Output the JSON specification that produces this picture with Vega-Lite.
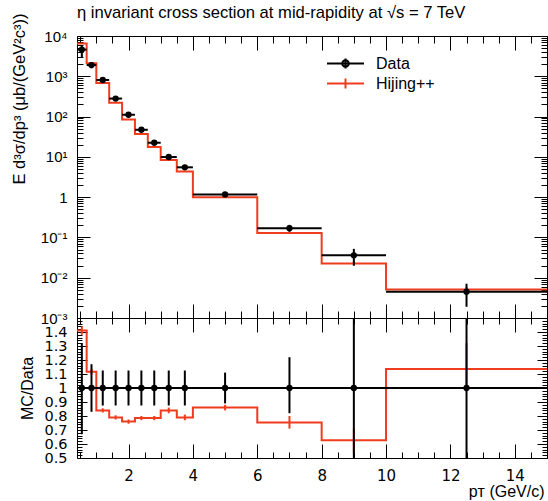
{
  "$schema": "https://vega.github.io/schema/vega-lite/v6.json",
  "autosize": {"type": "none"},
  "padding": {"left": 77, "top": 36, "right": 1, "bottom": 43},
  "width": 470,
  "height": 422,
  "background": "white",
  "title": {"text": "η invariant cross section at mid-rapidity at √s = 7 TeV", "anchor": "start", "frame": "group", "fontSize": 16.6, "fontWeight": "normal", "font": "Liberation Sans", "color": "black", "offset": -9},
  "config": {
    "font": "Liberation Sans",
    "view": {"stroke": null},
    "axis": {"domainColor": "black", "domainWidth": 1, "tickColor": "black", "tickWidth": 1, "labelColor": "black", "titleColor": "black", "grid": false, "labelFont": "Liberation Sans", "titleFont": "Liberation Sans", "labelFontSize": 15, "titleFontSize": 16, "titleFontWeight": "normal", "labelOverlap": false, "labelFlush": false}
  },
  "datasets": {
    "bins": [
      {"lo":0.4,"hi":0.7,"pt":0.55,"data":4600,"dlo":3000,"dhi":5900,"mc":6500,"mclo":6350,"mchi":6650,"r":1.41,"rlo":1.38,"rhi":1.44,"elo":0.67,"ehi":1.32},
      {"lo":0.7,"hi":1.0,"pt":0.85,"data":1900,"dlo":1580,"dhi":2220,"mc":2120,"mclo":2080,"mchi":2160,"r":1.116,"rlo":1.095,"rhi":1.137,"elo":0.83,"ehi":1.17},
      {"lo":1.0,"hi":1.4,"pt":1.2,"data":810,"dlo":710,"dhi":910,"mc":680,"mclo":667,"mchi":693,"r":0.84,"rlo":0.825,"rhi":0.855,"elo":0.875,"ehi":1.125},
      {"lo":1.4,"hi":1.8,"pt":1.6,"data":280,"dlo":245,"dhi":315,"mc":221,"mclo":217,"mchi":225,"r":0.79,"rlo":0.775,"rhi":0.805,"elo":0.875,"ehi":1.125},
      {"lo":1.8,"hi":2.2,"pt":2.0,"data":111,"dlo":97,"dhi":125,"mc":84,"mclo":82.5,"mchi":85.5,"r":0.76,"rlo":0.745,"rhi":0.775,"elo":0.875,"ehi":1.125},
      {"lo":2.2,"hi":2.6,"pt":2.4,"data":47,"dlo":41,"dhi":53,"mc":37,"mclo":36.3,"mchi":37.7,"r":0.785,"rlo":0.77,"rhi":0.8,"elo":0.875,"ehi":1.125},
      {"lo":2.6,"hi":3.0,"pt":2.8,"data":22.4,"dlo":19.6,"dhi":25.2,"mc":17.6,"mclo":17.2,"mchi":18.0,"r":0.785,"rlo":0.77,"rhi":0.8,"elo":0.875,"ehi":1.125},
      {"lo":3.0,"hi":3.5,"pt":3.25,"data":9.9,"dlo":8.7,"dhi":11.1,"mc":8.3,"mclo":8.1,"mchi":8.5,"r":0.84,"rlo":0.82,"rhi":0.86,"elo":0.875,"ehi":1.125},
      {"lo":3.5,"hi":4.0,"pt":3.75,"data":5.5,"dlo":4.8,"dhi":6.2,"mc":4.35,"mclo":4.25,"mchi":4.45,"r":0.79,"rlo":0.77,"rhi":0.81,"elo":0.875,"ehi":1.125},
      {"lo":4,"hi":6,"pt":5,"data":1.17,"dlo":1.04,"dhi":1.3,"mc":1.0,"mclo":0.975,"mchi":1.025,"r":0.86,"rlo":0.84,"rhi":0.88,"elo":0.89,"ehi":1.11},
      {"lo":6,"hi":8,"pt":7,"data":0.17,"dlo":0.138,"dhi":0.205,"mc":0.128,"mclo":0.121,"mchi":0.135,"r":0.754,"rlo":0.71,"rhi":0.8,"elo":0.82,"ehi":1.22},
      {"lo":8,"hi":10,"pt":9,"data":0.036,"dlo":0.02,"dhi":0.052,"mc":0.0225,"mclo":0.02,"mchi":0.025,"r":0.626,"rlo":0.54,"rhi":0.71,"elo":0.5,"ehi":1.5},
      {"lo":10,"hi":15,"pt":12.5,"data":0.0045,"dlo":0.0019,"dhi":0.0071,"mc":0.0051,"mclo":0.0044,"mchi":0.0058,"r":1.135,"rlo":0.98,"rhi":1.32,"elo":0.5,"ehi":1.5}
    ],
    "leg": [{"s": "Data"}, {"s": "Hijing++"}]
  },
  "layer": [
    {
      "data": {"name": "bins"},
      "transform": [{"fold": ["lo", "hi"], "as": ["side", "edge"]}, {"window": [{"op": "row_number", "as": "idx"}]}],
      "mark": {"type": "line", "color": "#f03c1e", "strokeWidth": 2, "interpolate": "linear"},
      "encoding": {
        "x": {"field": "edge", "type": "quantitative", "scale": {"domain": [0.4, 15], "nice": false, "zero": false},
          "axis": {"orient": "top", "values": [0.5,1,1.5,2,2.5,3,3.5,4,4.5,5,5.5,6,6.5,7,7.5,8,8.5,9,9.5,10,10.5,11,11.5,12,12.5,13,13.5,14,14.5,15], "labels": false, "title": null, "tickSize": {"condition": {"test": "datum.value % 2 == 0", "value": -14}, "value": -7}}},
        "y": {"field": "mc", "type": "quantitative", "scale": {"type": "log", "domain": [0.001, 10000], "range": [282, 0], "nice": false},
          "axis": {"orient": "left", "values": [0.001,0.002,0.003,0.004,0.005,0.006,0.007,0.008,0.009,0.01,0.02,0.03,0.04,0.05,0.06,0.07,0.08,0.09,0.1,0.2,0.3,0.4,0.5,0.6,0.7,0.8,0.9,1,2,3,4,5,6,7,8,9,10,20,30,40,50,60,70,80,90,100,200,300,400,500,600,700,800,900,1000,2000,3000,4000,5000,6000,7000,8000,9000,10000],
            "labelExpr": "abs(log(datum.value)/LN10 - round(log(datum.value)/LN10)) < 0.001 ? (round(log(datum.value)/LN10) == 0 ? '1' : '10' + ['⁻³','⁻²','⁻¹','','¹','²','³','⁴'][round(log(datum.value)/LN10) + 3]) : ''",
            "tickSize": {"condition": {"test": "abs(log(datum.value)/LN10 - round(log(datum.value)/LN10)) < 0.001", "value": -13}, "value": -6},
            "labelPadding": 23,
            "title": "E d³σ/dp³ (μb/(GeV²c³))", "titleAlign": "right", "titleBaseline": "bottom", "titleX": -50, "titleY": -23, "titleFontSize": 16.5}},
        "order": {"field": "idx", "type": "quantitative"}
      }
    },
    {
      "data": {"name": "bins"},
      "mark": {"type": "rule", "color": "#f03c1e", "strokeWidth": 2},
      "encoding": {
        "x": {"field": "pt", "type": "quantitative", "axis": null},
        "y": {"field": "mclo", "type": "quantitative", "scale": {"type": "log", "domain": [0.001, 10000], "range": [282, 0], "nice": false}, "axis": null},
        "y2": {"field": "mchi"}
      }
    },
    {
      "data": {"name": "bins"},
      "mark": {"type": "rule", "color": "black", "strokeWidth": 2},
      "encoding": {
        "x": {"field": "lo", "type": "quantitative",
          "axis": {"orient": "bottom", "offset": -140, "values": [0.5,1,1.5,2,2.5,3,3.5,4,4.5,5,5.5,6,6.5,7,7.5,8,8.5,9,9.5,10,10.5,11,11.5,12,12.5,13,13.5,14,14.5,15], "labels": false, "title": null, "tickSize": {"condition": {"test": "datum.value % 2 == 0", "value": -14}, "value": -7}}},
        "x2": {"field": "hi"},
        "y": {"field": "data", "type": "quantitative", "scale": {"type": "log", "domain": [0.001, 10000], "range": [282, 0], "nice": false},
          "axis": {"orient": "right", "values": [0.001,0.002,0.003,0.004,0.005,0.006,0.007,0.008,0.009,0.01,0.02,0.03,0.04,0.05,0.06,0.07,0.08,0.09,0.1,0.2,0.3,0.4,0.5,0.6,0.7,0.8,0.9,1,2,3,4,5,6,7,8,9,10,20,30,40,50,60,70,80,90,100,200,300,400,500,600,700,800,900,1000,2000,3000,4000,5000,6000,7000,8000,9000,10000],
            "labels": false, "title": null,
            "tickSize": {"condition": {"test": "abs(log(datum.value)/LN10 - round(log(datum.value)/LN10)) < 0.001", "value": -13}, "value": -6}}}
      }
    },
    {
      "data": {"name": "bins"},
      "mark": {"type": "rule", "color": "black", "strokeWidth": 2},
      "encoding": {
        "x": {"field": "pt", "type": "quantitative", "axis": null},
        "y": {"field": "dlo", "type": "quantitative", "scale": {"type": "log", "domain": [0.001, 10000], "range": [282, 0], "nice": false}, "axis": null},
        "y2": {"field": "dhi"}
      }
    },
    {
      "data": {"name": "bins"},
      "mark": {"type": "circle", "color": "black", "size": 40, "opacity": 1},
      "encoding": {
        "x": {"field": "pt", "type": "quantitative", "axis": null},
        "y": {"field": "data", "type": "quantitative", "scale": {"type": "log", "domain": [0.001, 10000], "range": [282, 0], "nice": false}, "axis": null}
      }
    },
    {
      "data": {"name": "leg"},
      "mark": {"type": "point", "filled": false, "opacity": 0},
      "encoding": {
        "color": {"field": "s", "type": "nominal", "scale": {"domain": ["Data", "Hijing++"], "range": ["black", "#f03c1e"]},
          "legend": {"title": null, "orient": "none", "legendX": 258, "legendY": 17, "symbolSize": 342, "symbolStrokeWidth": 2, "symbolFillColor": "black", "symbolOpacity": 1, "labelFontSize": 16, "labelOffset": 20, "rowPadding": 0, "labelFont": "Liberation Sans", "labelColor": "black", "padding": 0}},
        "shape": {"field": "s", "type": "nominal", "scale": {"domain": ["Data", "Hijing++"], "range": ["M-2,0H2M0,-0.55V0.55M0.35,0A0.35,0.35,0,1,1,-0.35,0A0.35,0.35,0,1,1,0.35,0Z", "M-2,0H2M0,-0.55V0.55"]},
          "legend": {"title": null, "orient": "none", "legendX": 258, "legendY": 17, "symbolSize": 342, "symbolStrokeWidth": 2, "symbolFillColor": "black", "symbolOpacity": 1, "labelFontSize": 16, "labelOffset": 20, "rowPadding": 0, "labelFont": "Liberation Sans", "labelColor": "black", "padding": 0}}
      }
    },
    {
      "data": {"name": "bins"},
      "transform": [{"fold": ["lo", "hi"], "as": ["side", "edge"]}, {"window": [{"op": "row_number", "as": "idx"}]}],
      "mark": {"type": "line", "color": "#f03c1e", "strokeWidth": 2, "interpolate": "linear"},
      "encoding": {
        "x": {"field": "edge", "type": "quantitative",
          "axis": {"orient": "bottom", "values": [0.5,1,1.5,2,2.5,3,3.5,4,4.5,5,5.5,6,6.5,7,7.5,8,8.5,9,9.5,10,10.5,11,11.5,12,12.5,13,13.5,14,14.5,15],
            "labelExpr": "datum.value % 2 == 0 ? format(datum.value, 'd') : ''",
            "tickSize": {"condition": {"test": "datum.value % 2 == 0", "value": -14}, "value": -6},
            "labelPadding": 24, "labelFont": "DejaVu Sans", "labelFontSize": 15,
            "title": "pᴛ (GeV/c)", "titleAnchor": "end", "titleAlign": "right", "titleX": 467, "titlePadding": -8}},
        "y": {"field": "r", "type": "quantitative", "scale": {"domain": [0.5, 1.5], "range": [422, 282], "nice": false, "zero": false},
          "axis": {"orient": "left", "values": [0.5,0.52,0.54,0.56,0.58,0.6,0.62,0.64,0.66,0.68,0.7,0.72,0.74,0.76,0.78,0.8,0.82,0.84,0.86,0.88,0.9,0.92,0.94,0.96,0.98,1,1.02,1.04,1.06,1.08,1.1,1.12,1.14,1.16,1.18,1.2,1.22,1.24,1.26,1.28,1.3,1.32,1.34,1.36,1.38,1.4,1.42,1.44,1.46,1.48,1.5],
            "labelExpr": "datum.value < 1.45 && abs(datum.value*10 - round(datum.value*10)) < 0.001 ? format(datum.value, '.1~f') : ''",
            "tickSize": {"condition": {"test": "abs(datum.value*10 - round(datum.value*10)) < 0.001", "value": -10}, "value": -5},
            "labelPadding": 20, "labelFont": "DejaVu Sans", "labelFontSize": 14.5,
            "title": "MC/Data", "titleX": -42, "titleY": 352, "titleAlign": "center", "titleBaseline": "bottom"}},
        "order": {"field": "idx", "type": "quantitative"}
      }
    },
    {
      "data": {"name": "bins"},
      "mark": {"type": "rule", "color": "#f03c1e", "strokeWidth": 2},
      "encoding": {
        "x": {"field": "pt", "type": "quantitative", "axis": null},
        "y": {"field": "rlo", "type": "quantitative", "scale": {"domain": [0.5, 1.5], "range": [422, 282], "nice": false, "zero": false}, "axis": null},
        "y2": {"field": "rhi"}
      }
    },
    {
      "data": {"name": "bins"},
      "mark": {"type": "rule", "color": "black", "strokeWidth": 2},
      "encoding": {
        "y": {"datum": 1, "type": "quantitative", "scale": {"domain": [0.5, 1.5], "range": [422, 282], "nice": false, "zero": false},
          "axis": {"orient": "right", "values": [0.5,0.52,0.54,0.56,0.58,0.6,0.62,0.64,0.66,0.68,0.7,0.72,0.74,0.76,0.78,0.8,0.82,0.84,0.86,0.88,0.9,0.92,0.94,0.96,0.98,1,1.02,1.04,1.06,1.08,1.1,1.12,1.14,1.16,1.18,1.2,1.22,1.24,1.26,1.28,1.3,1.32,1.34,1.36,1.38,1.4,1.42,1.44,1.46,1.48,1.5],
            "labels": false, "title": null,
            "tickSize": {"condition": {"test": "abs(datum.value*10 - round(datum.value*10)) < 0.001", "value": -10}, "value": -5}}}
      }
    },
    {
      "data": {"name": "bins"},
      "mark": {"type": "rule", "color": "black", "strokeWidth": 2},
      "encoding": {
        "x": {"field": "pt", "type": "quantitative",
          "axis": {"orient": "top", "offset": -282, "values": [0.5,1,1.5,2,2.5,3,3.5,4,4.5,5,5.5,6,6.5,7,7.5,8,8.5,9,9.5,10,10.5,11,11.5,12,12.5,13,13.5,14,14.5,15], "labels": false, "title": null, "tickSize": {"condition": {"test": "datum.value % 2 == 0", "value": -14}, "value": -6}}},
        "y": {"field": "elo", "type": "quantitative", "scale": {"domain": [0.5, 1.5], "range": [422, 282], "nice": false, "zero": false}, "axis": null},
        "y2": {"field": "ehi"}
      }
    },
    {
      "data": {"name": "bins"},
      "mark": {"type": "circle", "color": "black", "size": 40, "opacity": 1},
      "encoding": {
        "x": {"field": "pt", "type": "quantitative", "axis": null},
        "y": {"datum": 1, "type": "quantitative", "scale": {"domain": [0.5, 1.5], "range": [422, 282], "nice": false, "zero": false}, "axis": null}
      }
    }
  ],
  "resolve": {"scale": {"y": "independent"}, "axis": {"x": "independent", "y": "independent"}}
}
